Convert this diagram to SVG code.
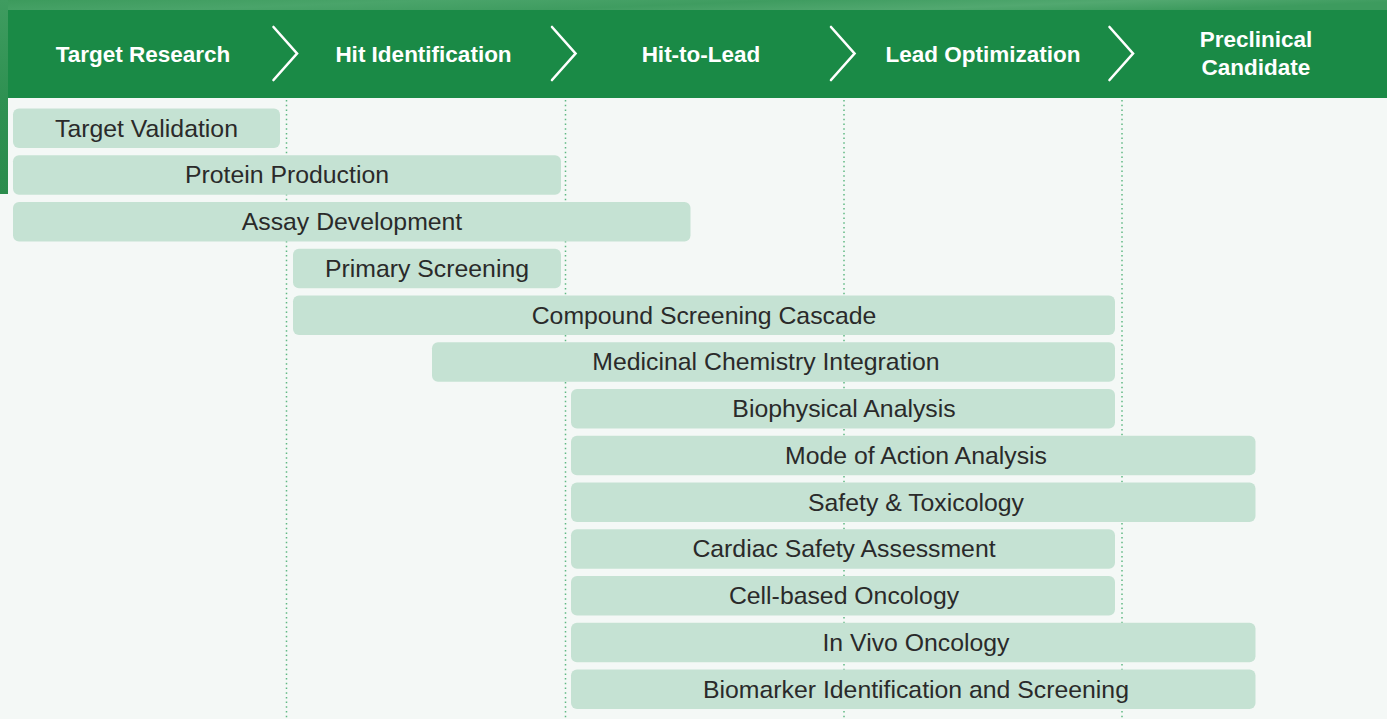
<svg xmlns="http://www.w3.org/2000/svg" width="1387" height="719" viewBox="0 0 1387 719">
<style>
.hd{font-family:"Liberation Sans",Arial,sans-serif;font-weight:bold;font-size:22.5px;fill:#ffffff;text-anchor:middle}
.bar{fill:#c5e2d3}
.lb{font-family:"Liberation Sans",Arial,sans-serif;font-size:24.8px;fill:#2a2a2a;text-anchor:middle}
.grid{stroke:#5fb883;stroke-width:1.5;stroke-dasharray:1.5 3.2;fill:none}
.chev{stroke:#ffffff;stroke-width:2.6;fill:none;stroke-linecap:round;stroke-linejoin:miter}
</style>
<defs>
<linearGradient id="leaf" x1="0" y1="0" x2="1" y2="0.2">
<stop offset="0" stop-color="#3c9a5c"/>
<stop offset="0.3" stop-color="#4aa46a"/>
<stop offset="0.55" stop-color="#3f9c60"/>
<stop offset="0.8" stop-color="#52a870"/>
<stop offset="1" stop-color="#3d9b5e"/>
</linearGradient>
<linearGradient id="leafv" x1="0" y1="0" x2="0" y2="1">
<stop offset="0" stop-color="#3f9c60"/>
<stop offset="0.5" stop-color="#2f9152"/>
<stop offset="1" stop-color="#2a8c4c"/>
</linearGradient>
</defs>
<rect x="0" y="0" width="1387" height="719" fill="#f4f8f6"/>
<rect x="0" y="0" width="1387" height="11" fill="url(#leaf)"/>
<rect x="0" y="0" width="8" height="194" fill="url(#leafv)"/>
<rect x="8" y="10" width="1379" height="88" fill="#1a8a46"/>
<g id="grid">
<line class="grid" x1="286.5" y1="100" x2="286.5" y2="719"/>
<line class="grid" x1="565.5" y1="100" x2="565.5" y2="719"/>
<line class="grid" x1="844" y1="100" x2="844" y2="719"/>
<line class="grid" x1="1122" y1="100" x2="1122" y2="719"/>
</g>
<g id="connectors">
<polyline class="chev" points="273.5,27 297,53.5 273.5,80"/>
<polyline class="chev" points="552,27 575.5,53.5 552,80"/>
<polyline class="chev" points="831,27 854.5,53.5 831,80"/>
<polyline class="chev" points="1109.5,27 1133,53.5 1109.5,80"/>
</g>
<g id="phase-target-research"><text class="hd" x="143" y="62">Target Research</text></g>
<g id="phase-hit-identification"><text class="hd" x="423.5" y="62">Hit Identification</text></g>
<g id="phase-hit-to-lead"><text class="hd" x="701" y="62">Hit-to-Lead</text></g>
<g id="phase-lead-optimization"><text class="hd" x="983" y="62">Lead Optimization</text></g>
<g id="phase-preclinical-candidate"><text class="hd" x="1256" y="47">Preclinical</text><text class="hd" x="1256" y="75">Candidate</text></g>
<g id="bar-target-validation"><rect class="bar" x="13" y="108.5" width="267" height="39.5" rx="6"/><text class="lb" x="146.5" y="136.5">Target Validation</text></g>
<g id="bar-protein-production"><rect class="bar" x="13" y="155.3" width="548" height="39.5" rx="6"/><text class="lb" x="287" y="183.3">Protein Production</text></g>
<g id="bar-assay-development"><rect class="bar" x="13" y="202" width="677.5" height="39.5" rx="6"/><text class="lb" x="352" y="230">Assay Development</text></g>
<g id="bar-primary-screening"><rect class="bar" x="293" y="248.8" width="268" height="39.5" rx="6"/><text class="lb" x="427" y="276.8">Primary Screening</text></g>
<g id="bar-compound-screening-cascade"><rect class="bar" x="293" y="295.5" width="822" height="39.5" rx="6"/><text class="lb" x="704" y="323.5">Compound Screening Cascade</text></g>
<g id="bar-medicinal-chemistry"><rect class="bar" x="432" y="342.3" width="683" height="39.5" rx="6"/><text class="lb" x="766" y="370.3">Medicinal Chemistry Integration</text></g>
<g id="bar-biophysical-analysis"><rect class="bar" x="571" y="389" width="544" height="39.5" rx="6"/><text class="lb" x="844" y="417">Biophysical Analysis</text></g>
<g id="bar-mode-of-action"><rect class="bar" x="571" y="435.8" width="684.5" height="39.5" rx="6"/><text class="lb" x="916" y="463.8">Mode of Action Analysis</text></g>
<g id="bar-safety-toxicology"><rect class="bar" x="571" y="482.5" width="684.5" height="39.5" rx="6"/><text class="lb" x="916" y="510.5">Safety &amp; Toxicology</text></g>
<g id="bar-cardiac-safety"><rect class="bar" x="571" y="529.3" width="544" height="39.5" rx="6"/><text class="lb" x="844" y="557.3">Cardiac Safety Assessment</text></g>
<g id="bar-cell-based-oncology"><rect class="bar" x="571" y="576" width="544" height="39.5" rx="6"/><text class="lb" x="844" y="604">Cell-based Oncology</text></g>
<g id="bar-in-vivo-oncology"><rect class="bar" x="571" y="622.8" width="684.5" height="39.5" rx="6"/><text class="lb" x="916" y="650.8">In Vivo Oncology</text></g>
<g id="bar-biomarker"><rect class="bar" x="571" y="669.5" width="684.5" height="39.5" rx="6"/><text class="lb" x="916" y="697.5">Biomarker Identification and Screening</text></g>
</svg>
